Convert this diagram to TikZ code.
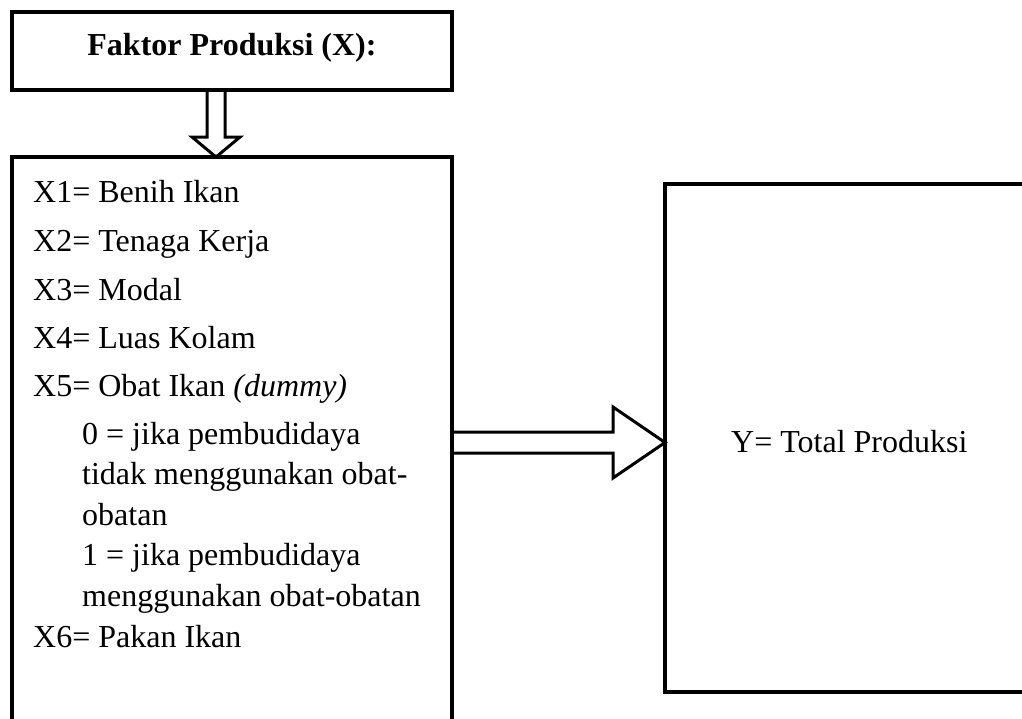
\documentclass[tikz,border=0pt]{standalone}
\usepackage{fontspec}
\setmainfont{Liberation Serif}
\usetikzlibrary{calc}
\begin{document}
\begin{tikzpicture}[x=1pt,y=-1pt,
  box/.style={draw, line width=3.5pt, inner sep=0pt, outer sep=0pt},
  blockarrow/.style={draw, line width=3pt, line join=miter},
  txt/.style={anchor=base west, inner sep=0pt, font=\fontsize{32}{38}\selectfont}]
\useasboundingbox (0,0) rectangle (1022,718);
\clip (0,0) rectangle (1022,718);
% boxes
\node[box, minimum width=440pt, minimum height=78pt] (top) at (232,51) {};
\node[box, minimum width=440pt, minimum height=600pt] (left) at (232,457) {};
\node[box, minimum width=380pt, minimum height=508pt] (right) at (855,438) {};
% title
\node[txt, anchor=base, font=\fontsize{32}{38}\selectfont\bfseries] (title) at (232,55) {Faktor Produksi (X):};
% left texts
\node[txt] (l1) at (33,202) {X1= Benih Ikan};
\node[txt] (l2) at (33,251) {X2= Tenaga Kerja};
\node[txt] (l3) at (33,300) {X3= Modal};
\node[txt] (l4) at (33,348) {X4= Luas Kolam};
\node[txt] (l5) at (33,396) {X5= Obat Ikan \textit{(dummy)}};
\node[txt] (l6) at (82,444) {0 = jika pembudidaya};
\node[txt] (l7) at (82,484) {tidak menggunakan obat-};
\node[txt] (l8) at (82,525) {obatan};
\node[txt] (l9) at (82,565) {1 = jika pembudidaya};
\node[txt] (l10) at (82,606) {menggunakan obat-obatan};
\node[txt] (l11) at (33,647) {X6= Pakan Ikan};
% right text
\node[txt] (ytext) at (731,452) {Y= Total Produksi};
% down block arrow
\coordinate (da) at ($(top.south)+(-16,0)$);
\coordinate (dt) at (da |- left.north);
\draw[blockarrow] ($(da)+(-9,0)$) -- ($(dt)+(-9,-20)$) -- ($(dt)+(-24,-20)$) -- (dt)
  -- ($(dt)+(24,-20)$) -- ($(dt)+(9,-20)$) -- ($(da)+(9,0)$);
% right block arrow
\coordinate (ra) at (left.east |- 0,442.5);
\coordinate (rt) at (right.west |- ra);
\draw[blockarrow] ($(ra)+(0,-10.5)$) -- ($(rt)+(-52,-10.5)$) -- ($(rt)+(-52,-35.5)$) -- (rt)
  -- ($(rt)+(-52,35.5)$) -- ($(rt)+(-52,10.5)$) -- ($(ra)+(0,10.5)$);
\end{tikzpicture}
\end{document}
